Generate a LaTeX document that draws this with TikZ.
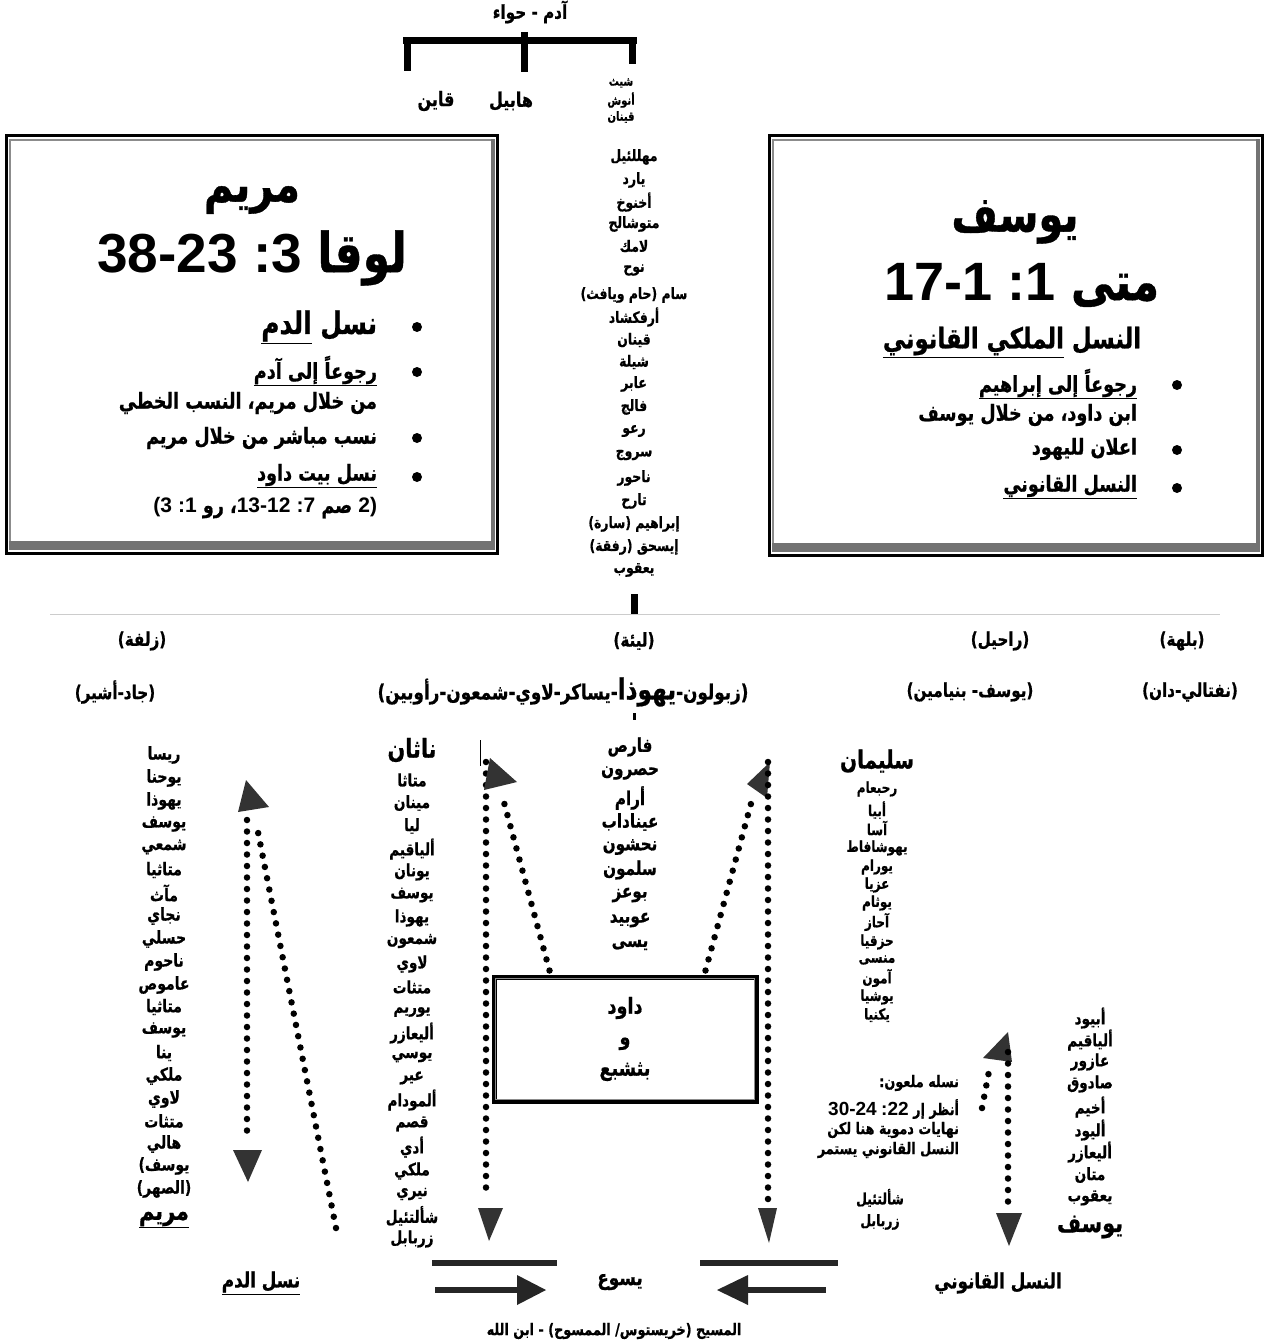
\documentclass[tikz,border=0pt]{standalone}
\usepackage{fontspec}
\newfontfamily\arfont[Script=Arabic, FakeStretch=0.8, BoldFeatures={FakeBold=0.7}]{DejaVu Sans}
\newfontfamily\lat{Liberation Sans}
\TeXXeTstate=1
\newcommand{\AR}[1]{\beginR #1\endR}
\newcommand{\fs}[1]{\fontsize{#1}{#1}\selectfont}
\begin{document}
\begin{tikzpicture}[x=1pt,y=-1pt]
\tikzset{
  ar/.style={inner sep=0pt, outer sep=0pt, font=\arfont\bfseries\fs{#1}},
  dots/.style={line width=6.5pt, line cap=round, dash pattern=on 0pt off 11.5pt},
  tri/.style={fill=black!80},
  bar/.style={line width=7pt},
  boxline/.style={line width=3pt},
}
\useasboundingbox (0,0) rectangle (1266,1343);
\fill[white] (0,0) rectangle (1266,1343);

% ---------- top ----------
\node[ar=19] (adam) at (530,12) {\AR{آدم - حواء}};
\draw[bar] (403,41) -- (637,41);
\draw[bar] (407,38) -- (407,71);
\draw[bar] (524,32) -- (524,72);
\draw[bar] (632,38) -- (632,64);
\node[ar=20] (cain) at (436,101) {\AR{قاين}};
\node[ar=20] (abel) at (511,101) {\AR{هابيل}};
\node[ar=12.5] (seth) at (621,83) {\AR{شيث}};
\node[ar=12.5] (enosh) at (621,100) {\AR{أنوش}};
\node[ar=12.5] (kenan) at (621,117) {\AR{قينان}};

% ---------- middle column ----------
\node[ar=15.5] (m1) at (634,157) {\AR{مهللئيل}};
\node[ar=15.5] (m2) at (634,180) {\AR{يارد}};
\node[ar=15.5] (m3) at (634,202) {\AR{أخنوخ}};
\node[ar=15.5] (m4) at (634,224) {\AR{متوشالح}};
\node[ar=15.5] (m5) at (634,246) {\AR{لامك}};
\node[ar=15.5] (m6) at (634,270) {\AR{نوح}};
\node[ar=15.5] (m7) at (634,295) {\AR{سام (حام ويافث)}};
\node[ar=15.5] (m8) at (634,317) {\AR{أرفكشاد}};
\node[ar=15.5] (m9) at (634,340) {\AR{قينان}};
\node[ar=15.5] (m10) at (634,362) {\AR{شيلة}};
\node[ar=15.5] (m11) at (634,384) {\AR{عابر}};
\node[ar=15.5] (m12) at (634,407) {\AR{فالج}};
\node[ar=15.5] (m13) at (634,431) {\AR{رعو}};
\node[ar=15.5] (m14) at (634,455) {\AR{سروج}};
\node[ar=15.5] (m15) at (634,478) {\AR{ناحور}};
\node[ar=15.5] (m16) at (634,501) {\AR{تارح}};
\node[ar=15.5] (m17) at (634,524) {\AR{إبراهيم (سارة)}};
\node[ar=15.5] (m18) at (634,547) {\AR{إيسحق (رفقة)}};
\node[ar=15.5] (m19) at (634,570) {\AR{يعقوب}};
\draw[bar] (634,594) -- (634,614);
\draw[black!20, line width=0.8pt] (50,614) -- (1220,614);

% ---------- left box ----------
\draw[boxline] (6,136) rectangle (497,553);
\draw[black!45, line width=1.2pt] (10,140) rectangle (493,549);
\fill[black!55] (9,541) rectangle (494,550);
\fill[black!55] (491,139) rectangle (495,550);
\node[ar=50] (mary) at (252,200) {\AR{مريم}};
\node[ar=55] (luke) at (252,258) {\AR{لوقا {\lat :3} {\lat 38-23}}};
\fill (417,327) circle (5);
\node[ar=31, anchor=east] (lb1) at (377,327) {\AR{نسل \underline{الدم}}};
\fill (417,372) circle (5);
\node[ar=22, anchor=east] (lb2) at (377,371) {\underline{\AR{رجوعاً إلى آدم}}};
\node[ar=22, anchor=east] (lb3) at (377,403) {\AR{من خلال مريم، النسب الخطي}};
\fill (417,438) circle (5);
\node[ar=22, anchor=east] (lb4) at (377,438) {\AR{نسب مباشر من خلال مريم}};
\fill (417,477) circle (5);
\node[ar=22, anchor=east] (lb5) at (377,476) {\underline{\AR{نسل بيت داود}}};
\node[ar=22, anchor=east] (lb6) at (377,508) {\AR{{\lat\fs{21}2)} صم {\lat\fs{21}:7} {\lat\fs{21}13-12}، رو {\lat\fs{21}:1} {\lat\fs{21}(3}}};

% ---------- right box ----------
\draw[boxline] (769,136) rectangle (1262,555);
\draw[black!45, line width=1.2pt] (773,140) rectangle (1258,551);
\fill[black!55] (772,543) rectangle (1259,552);
\fill[black!55] (1256,139) rectangle (1260,552);
\node[ar=50] (joseph) at (1015,222) {\AR{يوسف}};
\node[ar=54] (matt) at (1022,285) {\AR{متى {\lat :1} {\lat 17-1}}};
\node[ar=28.5] (rb0) at (1012,342) {\AR{النسل \underline{\AR{الملكي القانوني}}}};
\fill (1177,385) circle (5);
\node[ar=22, anchor=east] (rb1) at (1137,384) {\underline{\AR{رجوعاً إلى إبراهيم}}};
\node[ar=22, anchor=east] (rb2) at (1137,415) {\AR{ابن داود، من خلال يوسف}};
\fill (1177,450) circle (5);
\node[ar=22, anchor=east] (rb3) at (1137,449) {\AR{اعلان لليهود}};
\fill (1177,488) circle (5);
\node[ar=22, anchor=east] (rb4) at (1137,487) {\underline{\AR{النسل القانوني}}};

% ---------- wives / sons ----------
\node[ar=19] (zilpah) at (142,641) {\AR{(زلفة)}};
\node[ar=19] (leah) at (634,641) {\AR{(ليئة)}};
\node[ar=19] (rachel) at (1000,641) {\AR{(راحيل)}};
\node[ar=19] (bilhah) at (1182,641) {\AR{(بلهة)}};
\node[ar=19] (gad) at (115,692) {\AR{(جاد-أشير)}};
\node[ar=21] (leahsons) at (563,692) {\AR{(زبولون-{\fs{29}يهوذا}-يساكر-لاوي-شمعون-رأوبين)}};
\node[ar=19] (rachelsons) at (970,692) {\AR{(يوسف- بنيامين)}};
\node[ar=19] (bilhahsons) at (1190,692) {\AR{(نفتالي-دان)}};
\fill (633,713) rectangle (636,720);

% ---------- far left column (Mary) ----------
\node[ar=17.5] (a1) at (164,755) {\AR{ريسا}};
\node[ar=17.5] (a2) at (164,778) {\AR{يوحنا}};
\node[ar=17.5] (a3) at (164,801) {\AR{يهوذا}};
\node[ar=17.5] (a4) at (164,824) {\AR{يوسف}};
\node[ar=17.5] (a5) at (164,847) {\AR{شمعي}};
\node[ar=17.5] (a6) at (164,870) {\AR{متاثيا}};
\node[ar=17.5] (a7) at (164,893) {\AR{مآث}};
\node[ar=17.5] (a8) at (164,916) {\AR{نجاي}};
\node[ar=17.5] (a9) at (164,939) {\AR{حسلي}};
\node[ar=17.5] (a10) at (164,962) {\AR{ناحوم}};
\node[ar=17.5] (a11) at (164,985) {\AR{عاموص}};
\node[ar=17.5] (a12) at (164,1007) {\AR{متاثيا}};
\node[ar=17.5] (a13) at (164,1030) {\AR{يوسف}};
\node[ar=17.5] (a14) at (164,1053) {\AR{ينا}};
\node[ar=17.5] (a15) at (164,1076) {\AR{ملكي}};
\node[ar=17.5] (a16) at (164,1099) {\AR{لاوي}};
\node[ar=17.5] (a17) at (164,1121) {\AR{متثات}};
\node[ar=17.5] (a18) at (164,1144) {\AR{هالي}};
\node[ar=17.5] (a19) at (164,1166) {\AR{يوسف)}};
\node[ar=17.5] (a20) at (164,1189) {\AR{(الصهر)}};
\node[ar=26] (a21) at (164,1220) {\underline{\AR{مريم}}};

% left arrows
\draw[dots] (336,1228) -- (256,822);
\fill[tri] (246,780) -- (238,812) -- (269,807) -- cycle;
\draw[dots] (247,820) -- (247,1140);
\fill[tri] (233,1150) -- (262,1150) -- (248,1182) -- cycle;

% ---------- Nathan column ----------
\node[ar=26] (n0) at (412,750) {\AR{ناثان}};
\node[ar=17] (n1) at (412,780) {\AR{متاثا}};
\node[ar=17] (n2) at (412,803) {\AR{مينان}};
\node[ar=17] (n3) at (412,826) {\AR{ليا}};
\node[ar=17] (n4) at (412,849) {\AR{ألياقيم}};
\node[ar=17] (n5) at (412,872) {\AR{يونان}};
\node[ar=17] (n6) at (412,895) {\AR{يوسف}};
\node[ar=17] (n7) at (412,918) {\AR{يهوذا}};
\node[ar=17] (n8) at (412,941) {\AR{شمعون}};
\node[ar=17] (n9) at (412,964) {\AR{لاوي}};
\node[ar=17] (n10) at (412,987) {\AR{متثات}};
\node[ar=17] (n11) at (412,1012) {\AR{يوريم}};
\node[ar=17] (n12) at (412,1033) {\AR{أليعازر}};
\node[ar=17] (n13) at (412,1057) {\AR{يوسي}};
\node[ar=17] (n14) at (412,1078) {\AR{عير}};
\node[ar=17] (n15) at (412,1100) {\AR{ألمودام}};
\node[ar=17] (n16) at (412,1124) {\AR{قصم}};
\node[ar=17] (n17) at (412,1147) {\AR{أدي}};
\node[ar=17] (n18) at (412,1171) {\AR{ملكي}};
\node[ar=17] (n19) at (412,1194) {\AR{نيري}};
\node[ar=17] (n20) at (412,1216) {\AR{شألتئيل}};
\node[ar=17] (n21) at (412,1239) {\AR{زربابل}};

% ---------- Perez column ----------
\node[ar=19] (p1) at (630,747) {\AR{فارص}};
\node[ar=19] (p2) at (630,773) {\AR{حصرون}};
\node[ar=19] (p3) at (630,798) {\AR{أرام}};
\node[ar=19] (p4) at (630,822) {\AR{عيناداب}};
\node[ar=19] (p5) at (630,847) {\AR{نحشون}};
\node[ar=19] (p6) at (630,870) {\AR{سلمون}};
\node[ar=19] (p7) at (630,895) {\AR{بوعز}};
\node[ar=19] (p8) at (630,920) {\AR{عوبيد}};
\node[ar=19] (p9) at (630,945) {\AR{يسى}};

% David box
\node[draw, line width=5pt, minimum width=262pt, minimum height=124pt, inner sep=0pt,
      align=center, font=\arfont\bfseries\fontsize{22}{31}\selectfont] (david) at (625,1039)
      {\AR{داود}\\\AR{و}\\\AR{بثشبع}};
\draw[black!45, line width=1.2pt] ([shift={(4,4)}]david.north west) rectangle ([shift={(-4,-4)}]david.south east);

% middle arrows
\draw[black, line width=0.6pt] (480,740) -- (480,766);
\draw[dots] (486,762) -- (486,1196);
\fill[tri] (478,1208) -- (503,1208) -- (489,1241) -- cycle;
\draw[dots] (david.north west) ++(58,-4) -- (502,795);
\fill[tri] (490,758) -- (484,790) -- (517,782) -- cycle;
\draw[dots] (david.north east) ++(-53,-4) -- (752,800);
\fill[tri] (770,762) -- (747,784) -- (767,798) -- cycle;
\draw[dots] (768,762) -- (768,1200);
\fill[tri] (758,1208) -- (777,1208) -- (769,1243) -- cycle;

% ---------- Solomon column ----------
\node[ar=25] (s0) at (877,761) {\AR{سليمان}};
\node[ar=15] (s1) at (877,789) {\AR{رحبعام}};
\node[ar=15] (s2) at (877,810) {\AR{أبيا}};
\node[ar=15] (s3) at (877,828) {\AR{آسا}};
\node[ar=15] (s4) at (877,848) {\AR{يهوشافاط}};
\node[ar=15] (s5) at (877,867) {\AR{يورام}};
\node[ar=15] (s6) at (877,885) {\AR{عزيا}};
\node[ar=15] (s7) at (877,903) {\AR{يوثام}};
\node[ar=15] (s8) at (877,922) {\AR{آحاز}};
\node[ar=15] (s9) at (877,942) {\AR{حزقيا}};
\node[ar=15] (s10) at (877,960) {\AR{منسى}};
\node[ar=15] (s11) at (877,978) {\AR{آمون}};
\node[ar=15] (s12) at (877,997) {\AR{يوشيا}};
\node[ar=15] (s13) at (877,1015) {\AR{يكنيا}};
\node[ar=16, anchor=east] (c1) at (959,1083) {\AR{نسله ملعون:}};
\node[ar=16, anchor=east] (c2) at (959,1109) {\AR{أنظر إر {\lat\fs{19}:22} {\lat\fs{19}30-24}}};
\node[ar=16, anchor=east] (c3) at (959,1130) {\AR{نهايات دموية هنا لكن}};
\node[ar=16, anchor=east] (c4) at (959,1150) {\AR{النسل القانوني يستمر}};
\node[ar=15.5] (s14) at (880,1198) {\AR{شألتئيل}};
\node[ar=15.5] (s15) at (880,1222) {\AR{زربابل}};

% right arrows
\draw[dots] (982,1108) -- (990,1066);
\fill[tri] (1008,1032) -- (983,1058) -- (1012,1062) -- cycle;
\draw[dots] (1008,1052) -- (1008,1203);
\fill[tri] (996,1213) -- (1022,1213) -- (1009,1246) -- cycle;

% ---------- Joseph column ----------
\node[ar=17] (j1) at (1090,1018) {\AR{أبيود}};
\node[ar=17] (j2) at (1090,1040) {\AR{ألياقيم}};
\node[ar=17] (j3) at (1090,1062) {\AR{عازور}};
\node[ar=17] (j4) at (1090,1084) {\AR{صادوق}};
\node[ar=17] (j5) at (1090,1107) {\AR{أخيم}};
\node[ar=17] (j6) at (1090,1130) {\AR{أليود}};
\node[ar=17] (j7) at (1090,1152) {\AR{أليعازر}};
\node[ar=17] (j8) at (1090,1175) {\AR{متان}};
\node[ar=17] (j9) at (1090,1198) {\AR{يعقوب}};
\node[ar=26] (j10) at (1090,1227) {\AR{يوسف}};

% ---------- bottom ----------
\fill[black!85] (432,1260) rectangle (557,1266);
\fill[black!85] (700,1260) rectangle (838,1266);
\node[ar=21] (jesus) at (620,1282) {\AR{يسوع}};
\fill[black!85] (435,1287) rectangle (518,1293);
\fill[black!85] (517,1275) -- (546,1290) -- (517,1305) -- cycle;
\fill[black!85] (747,1287) rectangle (826,1293);
\fill[black!85] (748,1275) -- (717,1290) -- (748,1305) -- cycle;
\node[ar=21] (blood) at (261,1283) {\underline{\AR{نسل الدم}}};
\node[ar=21] (legal) at (998,1283) {\AR{النسل القانوني}};
\node[ar=16] (christ) at (614,1331) {\AR{المسيح (خريستوس/ الممسوح) - ابن الله}};
\end{tikzpicture}
\end{document}
